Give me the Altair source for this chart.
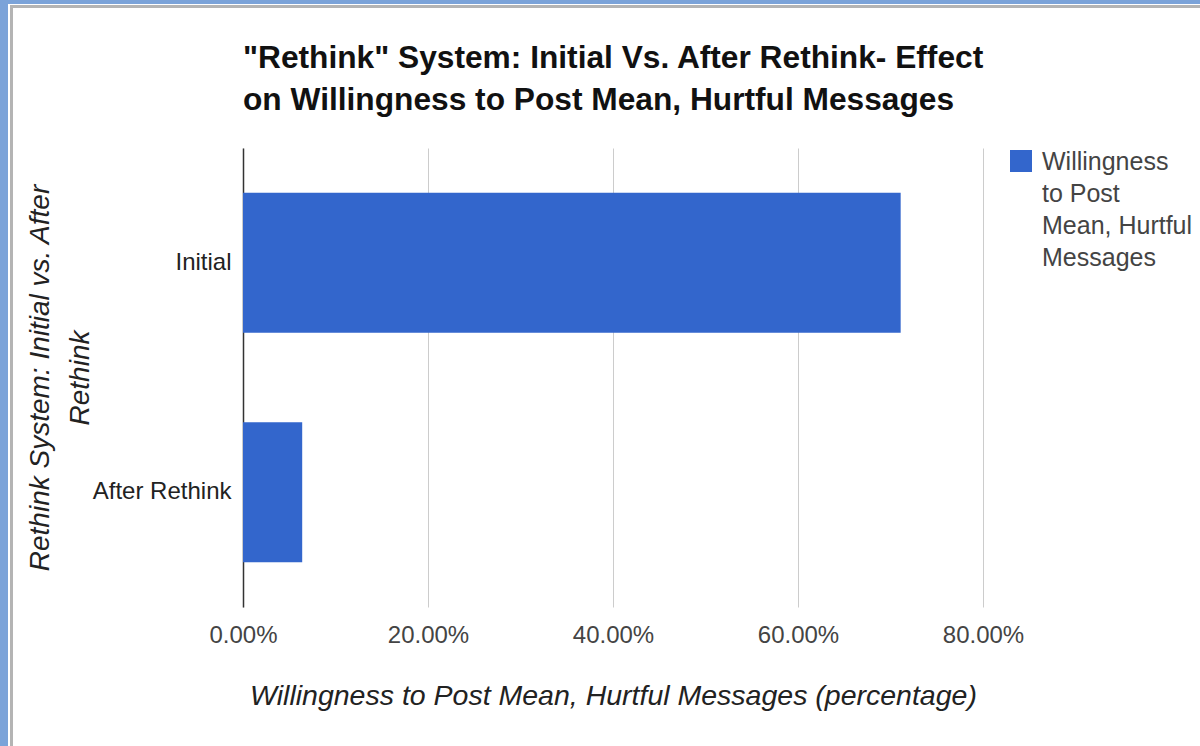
import altair as alt
import pandas as pd

categories = ["Initial", "After Rethink"]
values = [0.711, 0.064]
series_name = "Willingness to Post Mean, Hurtful Messages"
legend_lines = ["Willingness", "to Post", "Mean, Hurtful", "Messages"]
tick_values = [0.0, 0.2, 0.4, 0.6, 0.8]
title_lines = ['"Rethink" System: Initial Vs. After Rethink- Effect',
               "on Willingness to Post Mean, Hurtful Messages"]
y_title = ["Rethink System: Initial vs. After", "Rethink"]
x_title = "Willingness to Post Mean, Hurtful Messages (percentage)"

FONT = "Liberation Sans, Arial, sans-serif"
BAR = "#3366CC"

df = pd.DataFrame({"category": categories, "value": values, "series": [series_name] * len(categories)})

bars = alt.Chart(df).mark_bar(color=BAR).encode(
    x=alt.X("value:Q",
            scale=alt.Scale(domain=[0, 0.8], nice=False, zero=True),
            axis=alt.Axis(values=tick_values, format=".2%", title=x_title,
                          grid=True, gridColor="#cccccc", gridWidth=1,
                          domain=False, ticks=False,
                          labelFont=FONT, labelFontSize=24, labelColor="#444444",
                          labelPadding=16, labelFlush=False,
                          titleFont=FONT, titleFontSize=28.5, titleFontStyle="italic",
                          titleFontWeight="normal", titleColor="#222222",
                          titleY=88, titleBaseline="middle")),
    y=alt.Y("category:N", sort=categories,
            scale=alt.Scale(paddingInner=0.39, paddingOuter=0.195),
            axis=alt.Axis(title=y_title, grid=False, ticks=False,
                          domain=True, domainColor="#333333", domainWidth=1.5,
                          labelFont=FONT, labelFontSize=24, labelColor="#222222",
                          labelPadding=12,
                          titleFont=FONT, titleFontSize=28, titleFontStyle="italic",
                          titleFontWeight="normal", titleColor="#222222",
                          titleAngle=270, titleX=-203, titleY=229.5,
                          titleAlign="center", titleBaseline="middle",
                          titleLineHeight=40)),
    color=alt.Color("series:N", scale=alt.Scale(range=[BAR]),
                    legend=alt.Legend(title=legend_lines, titleOrient="right",
                                      titleAnchor="start", titleAlign="left",
                                      titleBaseline="top", titleLineHeight=32,
                                      titleFont=FONT, titleFontSize=25,
                                      titleFontWeight="normal", titleColor="#444444",
                                      titlePadding=10, titleLimit=400,
                                      orient="none", legendX=767, legendY=2,
                                      symbolType="square", symbolSize=484,
                                      symbolStrokeWidth=0, symbolOpacity=1,
                                      labelExpr="''", labelOffset=0,
                                      labelFontSize=1)),
)

# screenshot frame (decoration around the chart)
blue = "#7BA3D9"
gray = "#b4b4b4"
frame_df = pd.DataFrame({"k": [0]})
f1 = alt.Chart(frame_df).mark_rect(color=blue).encode(
    x=alt.value(-243), x2=alt.value(-235), y=alt.value(-148), y2=alt.value(598))
f2 = alt.Chart(frame_df).mark_rect(color=blue).encode(
    x=alt.value(-243), x2=alt.value(957), y=alt.value(-148), y2=alt.value(-144))
f3 = alt.Chart(frame_df).mark_rect(color=gray).encode(
    x=alt.value(-233), x2=alt.value(-230), y=alt.value(-143), y2=alt.value(598))
f4 = alt.Chart(frame_df).mark_rect(color=gray).encode(
    x=alt.value(-233), x2=alt.value(957), y=alt.value(-143), y2=alt.value(-140))

chart = alt.layer(bars, f1, f2, f3, f4).properties(
    width=740, height=459,
    autosize=alt.AutoSizeParams(type="none"),
    padding={"left": 243, "top": 148, "right": 217, "bottom": 139},
    background="white",
    title=alt.TitleParams(text=title_lines, anchor="start", frame="group",
                          font=FONT, fontSize=31.7, fontWeight="bold",
                          color="#111111", lineHeight=41.5, offset=0, dy=116.5),
).configure_view(stroke="transparent")

chart.save("out.html", embed_options={"renderer": "svg", "actions": False})
